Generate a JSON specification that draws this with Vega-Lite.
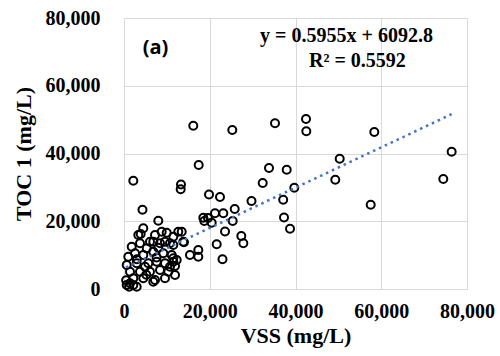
{
  "$schema": "https://vega.github.io/schema/vega-lite/v6.json",
  "autosize": "none",
  "width": 343,
  "height": 271,
  "padding": {"left": 124, "top": 18, "right": 33, "bottom": 67},
  "background": "white",
  "config": {
    "view": {"stroke": "#d9d9d9", "strokeWidth": 1},
    "axis": {
      "labelFont": "Liberation Serif",
      "labelFontWeight": "bold",
      "labelFontSize": 20,
      "labelColor": "#000000",
      "titleFont": "Liberation Serif",
      "titleFontWeight": "bold",
      "titleFontSize": 22,
      "titleColor": "#000000",
      "gridColor": "#d9d9d9",
      "gridWidth": 1,
      "domainColor": "#d9d9d9",
      "ticks": false
    }
  },
  "datasets": {
    "pts": [
      {"vss": 76420, "toc": 40530}, {"vss": 74470, "toc": 32480}, {"vss": 58380, "toc": 46350},
      {"vss": 57540, "toc": 24890}, {"vss": 50310, "toc": 38460}, {"vss": 49280, "toc": 32270},
      {"vss": 42450, "toc": 50180}, {"vss": 42520, "toc": 46550}, {"vss": 35220, "toc": 48920},
      {"vss": 25260, "toc": 46940}, {"vss": 33820, "toc": 35720}, {"vss": 37950, "toc": 35220},
      {"vss": 32350, "toc": 31290}, {"vss": 39720, "toc": 29900}, {"vss": 29740, "toc": 25980},
      {"vss": 37130, "toc": 26360}, {"vss": 25820, "toc": 23620}, {"vss": 25350, "toc": 20070},
      {"vss": 37320, "toc": 21110}, {"vss": 38720, "toc": 17800}, {"vss": 27360, "toc": 15650},
      {"vss": 27830, "toc": 13490}, {"vss": 16160, "toc": 48210}, {"vss": 17420, "toc": 36600},
      {"vss": 2170, "toc": 31970}, {"vss": 13290, "toc": 30850}, {"vss": 13220, "toc": 29430},
      {"vss": 19830, "toc": 27900}, {"vss": 22390, "toc": 27160}, {"vss": 4310, "toc": 23410},
      {"vss": 18500, "toc": 21050}, {"vss": 18730, "toc": 20070}, {"vss": 19590, "toc": 20960},
      {"vss": 21220, "toc": 22350}, {"vss": 23160, "toc": 22350}, {"vss": 20450, "toc": 19570},
      {"vss": 23560, "toc": 16970}, {"vss": 8000, "toc": 20160}, {"vss": 4500, "toc": 17920},
      {"vss": 3890, "toc": 16240}, {"vss": 12660, "toc": 16920}, {"vss": 13460, "toc": 16920},
      {"vss": 8790, "toc": 16920}, {"vss": 7230, "toc": 15940}, {"vss": 13990, "toc": 13820},
      {"vss": 21620, "toc": 13200}, {"vss": 17330, "toc": 11510}, {"vss": 17330, "toc": 9540},
      {"vss": 15390, "toc": 10040}, {"vss": 22970, "toc": 8770}, {"vss": 11500, "toc": 9060},
      {"vss": 11900, "toc": 6790}, {"vss": 10730, "toc": 6580}, {"vss": 10730, "toc": 13490},
      {"vss": 13830, "toc": 13960}, {"vss": 9560, "toc": 13960}, {"vss": 6830, "toc": 13960},
      {"vss": 11500, "toc": 12990}, {"vss": 3340, "toc": 15940}, {"vss": 9960, "toc": 16620},
      {"vss": 11500, "toc": 15440}, {"vss": 1800, "toc": 12490}, {"vss": 3730, "toc": 13490},
      {"vss": 6060, "toc": 13960}, {"vss": 8400, "toc": 13490}, {"vss": 1000, "toc": 9540},
      {"vss": 2570, "toc": 10540}, {"vss": 4500, "toc": 10040}, {"vss": 6830, "toc": 11010},
      {"vss": 9170, "toc": 10540}, {"vss": 11130, "toc": 10040}, {"vss": 630, "toc": 7080},
      {"vss": 2960, "toc": 7590}, {"vss": 5670, "toc": 7590}, {"vss": 7630, "toc": 8060},
      {"vss": 9560, "toc": 7590}, {"vss": 11500, "toc": 8060}, {"vss": 1400, "toc": 5110},
      {"vss": 3730, "toc": 5110}, {"vss": 6060, "toc": 5110}, {"vss": 8400, "toc": 5610},
      {"vss": 10330, "toc": 5110}, {"vss": 2170, "toc": 3160}, {"vss": 4500, "toc": 3160},
      {"vss": 7230, "toc": 2660}, {"vss": 9560, "toc": 3160}, {"vss": 630, "toc": 1180},
      {"vss": 2170, "toc": 1180}, {"vss": 1400, "toc": 1680}, {"vss": 2960, "toc": 680},
      {"vss": 6830, "toc": 2150}, {"vss": 12290, "toc": 8560}, {"vss": 11900, "toc": 4130},
      {"vss": 4900, "toc": 6580}, {"vss": 5300, "toc": 12000}, {"vss": 8000, "toc": 12200},
      {"vss": 3000, "toc": 8800}, {"vss": 1200, "toc": 700}, {"vss": 500, "toc": 2600},
      {"vss": 7600, "toc": 9300}, {"vss": 5200, "toc": 4200}
    ],
    "trend": [
      {"vss": 470, "toc": 6373},
      {"vss": 76420, "toc": 51601}
    ]
  },
  "layer": [
    {
      "data": {"name": "pts"},
      "mark": {"type": "point", "shape": "circle", "filled": false, "stroke": "#000000", "strokeWidth": 2, "size": 64, "opacity": 1},
      "encoding": {
        "x": {"field": "vss", "type": "quantitative", "scale": {"domain": [0, 80000], "nice": false},
              "axis": {"values": [0, 20000, 40000, 60000, 80000], "format": ",d", "title": "VSS (mg/L)", "labelPadding": 12, "titlePadding": 4, "labelFlush": false}},
        "y": {"field": "toc", "type": "quantitative", "scale": {"domain": [0, 80000], "nice": false},
              "axis": {"values": [0, 20000, 40000, 60000, 80000], "format": ",d", "title": "TOC 1 (mg/L)", "labelPadding": 24, "titlePadding": 10, "labelFlush": false}}
      }
    },
    {
      "data": {"name": "trend"},
      "mark": {"type": "line", "color": "#4472C4", "strokeWidth": 2.5, "strokeDash": [2.5, 4]},
      "encoding": {
        "x": {"field": "vss", "type": "quantitative"},
        "y": {"field": "toc", "type": "quantitative"}
      }
    },
    {
      "data": {"values": [{"vss": 7350, "toc": 71140, "label": "(a)"}]},
      "mark": {"type": "text", "font": "Open Sans", "fontWeight": "bold", "fontSize": 20, "color": "#000000", "align": "center", "baseline": "middle"},
      "encoding": {
        "x": {"field": "vss", "type": "quantitative"},
        "y": {"field": "toc", "type": "quantitative"},
        "text": {"field": "label"}
      }
    },
    {
      "data": {"values": [
        {"vss": 51890, "toc": 74830, "label": "y = 0.5955x + 6092.8"},
        {"vss": 54450, "toc": 67300, "label": "R² = 0.5592"}
      ]},
      "mark": {"type": "text", "font": "Liberation Serif", "fontWeight": "bold", "fontSize": 20, "color": "#000000", "align": "center", "baseline": "middle"},
      "encoding": {
        "x": {"field": "vss", "type": "quantitative"},
        "y": {"field": "toc", "type": "quantitative"},
        "text": {"field": "label"}
      }
    }
  ]
}
